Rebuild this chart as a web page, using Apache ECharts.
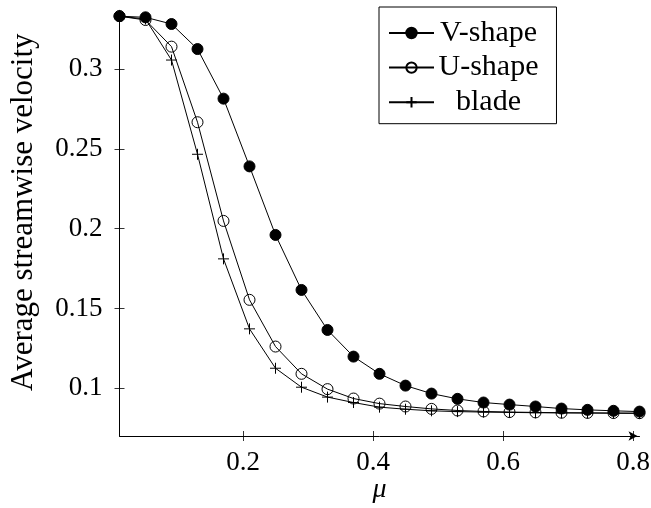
<!DOCTYPE html>
<html>
<head>
<meta charset="utf-8">
<script src="https://cdn.jsdelivr.net/npm/echarts@6/dist/echarts.min.js"></script>
<style>
html,body{margin:0;padding:0;background:#fff;}
#chart{width:651px;height:508px;}
</style>
</head>
<body>
<div id="chart"></div>
<script>
// ---- data ----
const muValues = [0.01, 0.05, 0.09, 0.13, 0.17, 0.21, 0.25, 0.29, 0.33, 0.37, 0.41,
                  0.45, 0.49, 0.53, 0.57, 0.61, 0.65, 0.69, 0.73, 0.77, 0.81];
const vShape = [0.3333, 0.3326, 0.3284, 0.3127, 0.2816, 0.2391, 0.1961, 0.1616, 0.1365, 0.1198, 0.1090,
                0.1016, 0.0966, 0.0933, 0.0910, 0.0897, 0.0885, 0.0872, 0.0864, 0.0858, 0.0853];
const uShape = [0.3333, 0.3309, 0.3142, 0.2668, 0.2049, 0.1554, 0.1261, 0.1090, 0.0994, 0.0935, 0.0903,
                0.0885, 0.0870, 0.0860, 0.0854, 0.0850, 0.0848, 0.0846, 0.0845, 0.0844, 0.0843];
const blade  = [0.3333, 0.3315, 0.3058, 0.2467, 0.1811, 0.1372, 0.1125, 0.1006, 0.0944, 0.0910, 0.0881,
                0.0868, 0.0858, 0.0853, 0.0850, 0.0848, 0.0846, 0.0845, 0.0844, 0.0843, 0.0842];
const seriesNames = ['V-shape', 'U-shape', 'blade'];
const xTicks = [0.2, 0.4, 0.6, 0.8];
const yTicks = [0.1, 0.15, 0.2, 0.25, 0.3];
const xLabel = 'μ';
const yLabel = 'Average streamwise velocity';

const FONT = 'Liberation Serif';
const pairs = arr => muValues.map((m, i) => [m, arr[i]]);

const chart = echarts.init(document.getElementById('chart'), null, {renderer: 'canvas'});

const gridBox = {left: 119.5, right: 11.5, top: 10.3, bottom: 72, containLabel: false, outerBoundsMode: 'none'};
const xRange = {type: 'value', min: 0.01, max: 0.81, position: 'bottom', splitLine: {show: false}};
const yRange = {type: 'value', min: 0.07, max: 0.337, position: 'left', splitLine: {show: false}};
const tickStyle = {color: '#000', width: 0.8};

const option = {
  animation: false,
  backgroundColor: '#fff',
  grid: [Object.assign({}, gridBox), Object.assign({}, gridBox)],
  xAxis: [
    // axis line, arrow and name (grid 0, carries the data)
    Object.assign({}, xRange, {
      gridIndex: 0,
      name: xLabel, nameLocation: 'middle', nameGap: 40,
      nameTextStyle: {fontFamily: FONT, fontSize: 28, fontStyle: 'italic', color: '#000'},
      axisLine: {show: true, lineStyle: {color: '#000', width: 1}, symbol: ['none', 'arrow'], symbolSize: [7, 9], symbolOffset: [0, -2]},
      axisTick: {show: false},
      axisLabel: {show: false}
    }),
    // ticks crossing the axis and tick labels (grid 1)
    Object.assign({}, xRange, {
      gridIndex: 1, offset: -5,
      axisLine: {show: true, lineStyle: {color: 'rgba(0,0,0,0)', width: 1}},
      axisTick: {show: true, inside: false, length: 10, lineStyle: tickStyle, customValues: xTicks},
      axisLabel: {show: true, margin: 18, fontFamily: FONT, fontSize: 27, color: '#000', customValues: xTicks}
    })
  ],
  yAxis: [
    Object.assign({}, yRange, {
      gridIndex: 0,
      name: yLabel, nameLocation: 'middle', nameGap: 80,
      nameTextStyle: {fontFamily: FONT, fontSize: 31, color: '#000', padding: [0, 0, 0, 22]},
      axisLine: {show: true, lineStyle: {color: '#000', width: 1}, symbol: ['none', 'arrow'], symbolSize: [7, 9]},
      axisTick: {show: false},
      axisLabel: {show: false}
    }),
    Object.assign({}, yRange, {
      gridIndex: 1, offset: -5,
      axisLine: {show: true, lineStyle: {color: 'rgba(0,0,0,0)', width: 1}},
      axisTick: {show: true, inside: false, length: 10, lineStyle: tickStyle, customValues: yTicks},
      axisLabel: {show: true, margin: 22, fontFamily: FONT, fontSize: 27, color: '#000', customValues: yTicks}
    })
  ],
  legend: {
    orient: 'vertical',
    left: 379, top: 7,
    padding: [11, 18, 6.5, 9],
    itemGap: 4.6,
    itemWidth: 45, itemHeight: 13,
    borderColor: '#000', borderWidth: 1, borderRadius: 0,
    backgroundColor: '#fff',
    selectedMode: false,
    formatter: name => '{t|' + name + '}',
    textStyle: {
      color: '#000', fontFamily: FONT, fontSize: 30,
      rich: {t: {width: 99, align: 'center', fontFamily: FONT, fontSize: 30, color: '#000', lineHeight: 26}}
    },
    data: seriesNames
  },
  series: [
    {
      name: seriesNames[2], type: 'line', data: pairs(blade), xAxisIndex: 0, yAxisIndex: 0,
      symbol: 'path://M0,5L10,5M5,0L5,10', symbolSize: 11, showSymbol: true,
      lineStyle: {color: '#000', width: 1},
      itemStyle: {color: 'rgba(0,0,0,0)', borderColor: '#000', borderWidth: 1},
      emphasis: {disabled: true}, z: 2
    },
    {
      name: seriesNames[1], type: 'line', data: pairs(uShape), xAxisIndex: 0, yAxisIndex: 0,
      symbol: 'circle', symbolSize: 11, showSymbol: true,
      lineStyle: {color: '#000', width: 1},
      itemStyle: {color: 'rgba(255,255,255,0)', borderColor: '#000', borderWidth: 1},
      emphasis: {disabled: true}, z: 3
    },
    {
      name: seriesNames[0], type: 'line', data: pairs(vShape), xAxisIndex: 0, yAxisIndex: 0,
      symbol: 'circle', symbolSize: 11, showSymbol: true,
      lineStyle: {color: '#000', width: 1},
      itemStyle: {color: '#000', borderColor: '#000', borderWidth: 1},
      emphasis: {disabled: true}, z: 4
    }
  ]
};
chart.setOption(option);
</script>
</body>
</html>
